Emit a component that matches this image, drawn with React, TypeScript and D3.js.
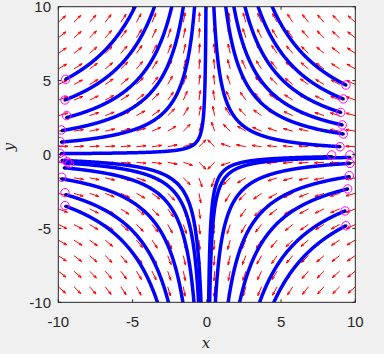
import React from 'react';
import * as d3 from 'd3';

const W = 384;
const H = 354;
const xTicks = [-10, -5, 0, 5, 10];
const yTicks = [-10, -5, 0, 5, 10];
const gridCount = 20;
const arrowLen = 0.65;

// streamline starting points (also the magenta circle markers)
const startX = [-9.5, -9.55, -9.44, -9.75, -9.8, -9.8, -9.75, -9.55, -9.6, -9.77, -9.5, -9.5,
  9.37, 9.19, 9.02, 9.12, 9.19, 8.97, 8.41, 9.64, 9.64, 9.6, 9.49, 9.31, 9.37];
const startY = [5.09, 3.69, 2.5, 1.62, 0.84, 0.06, -0.4, -0.58, -0.9, -1.65, -2.72, -3.5,
  4.70, 3.76, 2.85, 2.0, 1.39, 0.53, -0.15, -0.2, -0.6, -1.5, -2.33, -3.82, -4.82];
const circleX = [-9.5, -9.55, -9.44, -9.8, -9.87, -9.89, -9.7, -9.4, -9.25, -9.77, -9.55, -9.55,
  9.37, 9.19, 9.02, 9.12, 9.19, 8.97, 8.41, 9.64, 9.64, 9.6, 9.49, 9.31, 9.37];
const circleY = [5.09, 3.69, 2.63, 1.66, 0.87, 0.08, -0.3, -0.5, -0.62, -1.54, -2.58, -3.46,
  4.70, 3.76, 2.85, 2.0, 1.39, 0.53, -0.03, -0.03, -0.6, -1.43, -2.33, -3.82, -4.82];

export default function App() {
  const L = 58.3, R = 355.3, T = 6.7, B = 302.3;
  const x = d3.scaleLinear().domain([-10, 10]).range([L, R]);
  const y = d3.scaleLinear().domain([-10, 10]).range([B, T]);
  const grid = d3.range(gridCount).map(i => -10 + (20 * i) / (gridCount - 1));

  let quiver = '';
  grid.forEach(gx => grid.forEach(gy => {
    const u = -gx, v = gy;
    const m = Math.hypot(u, v);
    if (m === 0) return;
    const x1 = x(gx), y1 = y(gy);
    const x2 = x(gx + (u / m) * arrowLen), y2 = y(gy + (v / m) * arrowLen);
    const dx = x2 - x1, dy = y2 - y1;
    const a = 0.33, b = 0.33;
    const h1 = [x2 - a * (dx + b * dy), y2 - a * (dy - b * dx)];
    const h2 = [x2 - a * (dx - b * dy), y2 - a * (dy + b * dx)];
    quiver += `M${x1.toFixed(2)},${y1.toFixed(2)}L${x2.toFixed(2)},${y2.toFixed(2)}`;
    quiver += `M${h1[0].toFixed(2)},${h1[1].toFixed(2)}L${x2.toFixed(2)},${y2.toFixed(2)}L${h2[0].toFixed(2)},${h2[1].toFixed(2)}`;
  }));

  const line = d3.line<[number, number]>().x(d => x(d[0])).y(d => y(d[1]));
  const streams = startX.map((x0, i) => {
    const y0 = startY[i];
    const Tm = Math.log(10.5 / Math.abs(y0));
    const pts: [number, number][] = d3.range(0, 401).map(k => {
      const t = (k / 400) * Tm;
      return [x0 * Math.exp(-t), y0 * Math.exp(t)];
    });
    return line(pts) || '';
  });

  const axisColor = '#262626';
  const font = "'Liberation Sans', Arial, Helvetica, sans-serif";

  return (
    <svg width={W} height={H} style={{ position: 'absolute', left: 0, top: 0 }}>
      <rect x={0} y={0} width={W} height={H} fill="#f0f0f0" />
      <defs>
        <clipPath id="plotclip">
          <rect x={L} y={T} width={R - L} height={B - T} />
        </clipPath>
      </defs>
      <rect x={L} y={T} width={R - L} height={B - T} fill="#ffffff" />
      <g clipPath="url(#plotclip)">
        <path d={quiver} stroke="#ff0000" strokeWidth={1} fill="none" />
        {streams.map((d, i) => (
          <path key={i} d={d} stroke="#0000ff" strokeWidth={3.5} fill="none" />
        ))}
        {startX.map((x0, i) => (
          <circle key={'d' + i} cx={x(x0)} cy={y(startY[i])} r={1.6} fill="#00007a" />
        ))}
        {circleX.map((cx, i) => (
          <circle key={'c' + i} cx={x(cx)} cy={y(circleY[i])} r={4.2} fill="none" stroke="#ff00ff" strokeWidth={1} />
        ))}
      </g>
      {/* ticks */}
      {xTicks.map(t => (
        <g key={'xt' + t}>
          <line x1={x(t)} x2={x(t)} y1={B} y2={B - 3} stroke={axisColor} />
          <line x1={x(t)} x2={x(t)} y1={T} y2={T + 3} stroke={axisColor} />
          <text x={x(t)} y={327} textAnchor="middle" fontFamily={font} fontSize={15} fill={axisColor}>{t}</text>
        </g>
      ))}
      {yTicks.map(t => (
        <g key={'yt' + t}>
          <line x1={L} x2={L + 3} y1={y(t)} y2={y(t)} stroke={axisColor} />
          <line x1={R} x2={R - 3} y1={y(t)} y2={y(t)} stroke={axisColor} />
          <text x={51} y={y(t)} dy="0.36em" textAnchor="end" fontFamily={font} fontSize={15} fill={axisColor}>{t}</text>
        </g>
      ))}
      <rect x={L} y={T} width={R - L} height={B - T} fill="none" stroke={axisColor} strokeWidth={1} />
      <text x={206} y={348} textAnchor="middle" fontFamily="'DejaVu Serif', 'Liberation Serif', serif" fontStyle="italic" fontSize={15} fill={axisColor}>x</text>
      <text transform="translate(14,147) rotate(-90)" textAnchor="middle" fontFamily="'DejaVu Serif', 'Liberation Serif', serif" fontStyle="italic" fontSize={15} fill={axisColor}>y</text>
    </svg>
  );
}
